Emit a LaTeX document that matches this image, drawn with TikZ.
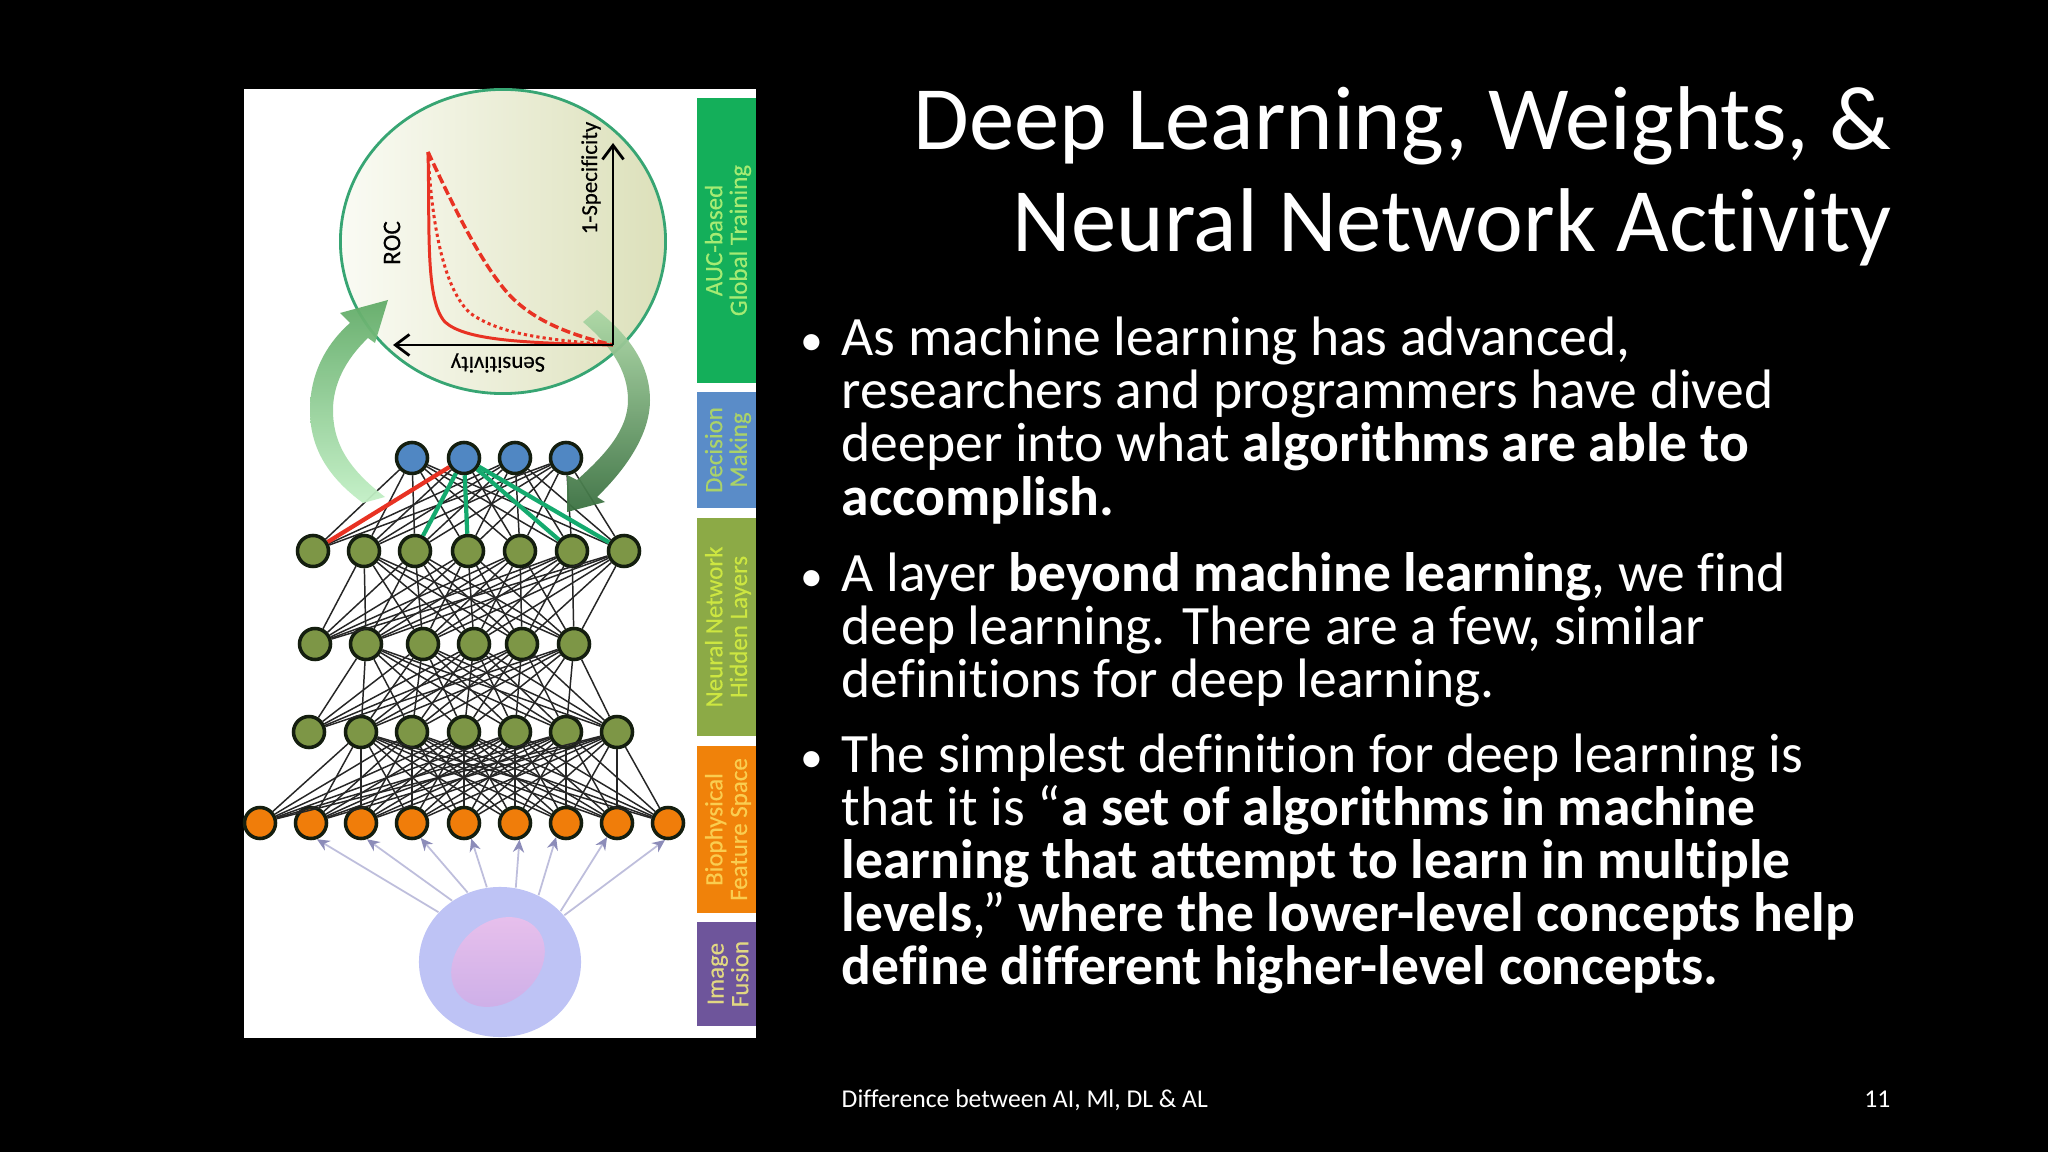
\documentclass[tikz,border=0pt]{standalone}
\usepackage{fontspec}
\usepackage{tikz}
\usetikzlibrary{shapes.geometric,arrows.meta}
\setmainfont[Ligatures=NoCommon]{Carlito}
\newfontfamily\figfont[FakeBold=0.35,Ligatures=NoCommon]{Carlito}
\definecolor{olivenode}{RGB}{125,150,70}
\definecolor{bluenode}{RGB}{80,135,195}
\definecolor{orangenode}{RGB}{240,125,10}
\definecolor{nodeedge}{RGB}{20,30,15}
\definecolor{rocred}{RGB}{232,50,35}
\definecolor{weightgreen}{RGB}{20,170,110}
\definecolor{feedline}{RGB}{190,190,220}
\definecolor{feedtip}{RGB}{140,140,185}
\newcommand{\unitpx}{*0.2845pt}
\tikzset{
    unit/.style={draw=nodeedge,circle,line width=1pt,minimum size=31\unitpx,inner sep=0pt},
    weight/.style={draw=black!85,line width=0.42pt},
    feed/.style={draw=feedline,line width=0.5pt,-{Stealth[length=3.6pt,width=3.2pt,color=feedtip]}},
    axis/.style={draw=black,line width=0.8pt,-{Straight Barb[length=4pt,width=6pt]}},
    sidetext/.style={rotate=90,align=center,font=\figfont\fontsize{7.1}{7}\selectfont},
    roctext/.style={inner sep=0pt,font=\figfont\fontsize{6.5}{8}\selectfont},
    titleline/.style={text=white,anchor=base east,inner sep=0pt,font=\fontsize{25.75}{30}\selectfont},
    bodyline/.style={text=white,anchor=base west,inner sep=0pt,text height=11pt,text depth=3pt,font=\fontsize{15.8}{18}\selectfont},
    bulletmark/.style={text=white,anchor=base west,inner sep=0pt,font=\fontsize{13}{15}\selectfont},
    footline/.style={text=white,inner sep=0pt,font=\fontsize{7.3}{9}\selectfont},
}
\begin{document}
\begin{tikzpicture}[x=0.01cm,y=-0.01cm]
    \fill[black] (0,0) rectangle (2048,1152);
    \useasboundingbox (0,0) rectangle (2048,1152);
    \fill[white] (244,89) rectangle (756,1038);

    % side bands
    \foreach \name/\top/\bot/\fillrgb/\textrgb/\txt in {
        auc/98/383/{20,175,90}/{165,235,115}/{AUC-based\\Global Training},
        decision/392/508/{90,140,200}/{170,210,105}/{Decision\\Making},
        hidden/518/736/{140,170,70}/{205,230,65}/{Neural Network\\Hidden Layers},
        feature/746/913/{240,130,10}/{250,205,80}/{Biophysical\\Feature Space},
        fusion/922/1026/{110,85,155}/{225,215,130}/{Image\\Fusion}} {
        \definecolor{bandfill}{RGB}{\fillrgb}
        \definecolor{bandtext}{RGB}{\textrgb}
        \fill[bandfill] (697,\top) rectangle (756,\bot);
        \node[sidetext,text=bandtext] (\name) at (728,{(\top+\bot)/2}) {\txt};
    }

    % ROC circle
    \node[draw={rgb,255:red,55;green,165;blue,115},ellipse,line width=0.8pt,minimum width=325\unitpx,minimum height=304\unitpx,inner sep=0pt,
        shade,shading angle=120,left color={rgb,255:red,250;green,251;blue,244},right color={rgb,255:red,220;green,224;blue,186}] (roc) at (503,241.5) {};

    % units
    \foreach \i/\x in {1/260,2/311,3/361,4/412,5/464,6/515,7/566,8/617,9/668}
        \node[unit,fill=orangenode] (o\i) at (\x,823) {};
    \foreach \i/\x in {1/309,2/361,3/412,4/464,5/515,6/566,7/617}
        \node[unit,fill=olivenode] (c\i) at (\x,732) {};
    \foreach \i/\x in {1/315,2/366,3/423,4/474,5/522,6/574}
        \node[unit,fill=olivenode] (b\i) at (\x,644) {};
    \foreach \i/\x in {1/313,2/364,3/415,4/468,5/520,6/572,7/624}
        \node[unit,fill=olivenode] (a\i) at (\x,551) {};
    \foreach \i/\x in {1/412,2/464,3/515,4/566}
        \node[unit,fill=bluenode] (t\i) at (\x,458) {};

    % weights
    \foreach \i in {1,...,9} \foreach \j in {2,...,7} \draw[weight] (o\i) -- (c\j);
    \foreach \i in {1,...,7} \foreach \j in {2,...,6} \draw[weight] (c\i) -- (b\j);
    \foreach \i in {1,...,6} \foreach \j in {2,...,7} \draw[weight] (b\i) -- (a\j);
    \foreach \i in {1,...,7} \foreach \j in {1,...,4} \draw[weight] (a\i) -- (t\j);
    \draw[rocred,line width=1.2pt] (a1) -- (t2);
    \foreach \j in {3,4,6,7} \draw[weightgreen,line width=1.2pt] (t2) -- (a\j);

    % loop arrows
    \shade[top color={rgb,255:red,98;green,172;blue,104},bottom color={rgb,255:red,195;green,240;blue,198},opacity=0.95]
        (363,503) .. controls (325,475) and (310,445) .. (310,410) .. controls (310,375) and (325,345) .. (350,323)
        -- (340,313) -- (388,300) -- (375,343) -- (368,338)
        .. controls (345,360) and (333,385) .. (333,410) .. controls (333,445) and (350,470) .. (385,497) -- cycle;
    \shade[top color={rgb,255:red,172;green,216;blue,166},bottom color={rgb,255:red,58;green,112;blue,64},opacity=0.95]
        (597,310) .. controls (635,340) and (650,370) .. (650,400) .. controls (650,435) and (625,470) .. (597,497)
        -- (605,502) -- (567,512) -- (567,475) -- (577,480)
        .. controls (605,455) and (628,430) .. (628,400) .. controls (628,370) and (610,345) .. (583,322) -- cycle;

    % ROC plot
    \coordinate (origin) at (613,345);
    \coordinate (yend) at (613,143);
    \coordinate (xend) at (393,345);
    \draw[rocred,line width=0.85pt] (428,152) .. controls (430,230) and (425,300) .. (445,322) .. controls (465,340) and (520,343) .. (613,345);
    \draw[rocred,line width=0.85pt,dash pattern=on 0.9pt off 0.9pt] (428,152) .. controls (432,230) and (445,290) .. (470,313) .. controls (500,335) and (550,340) .. (613,345);
    \draw[rocred,line width=1pt,dash pattern=on 2.6pt off 1pt] (428,152) .. controls (455,210) and (480,260) .. (505,290) .. controls (530,320) and (570,335) .. (613,345);
    \draw[axis] (origin) -- (yend);
    \draw[axis] (origin) -- (xend);
    \node[roctext,rotate=90,font=\figfont\fontsize{7.2}{8}\selectfont] (roclabel) at (392,243) {ROC};
    \node[roctext,rotate=90] (speclabel) at (591,178) {1-Specificity};
    \node[roctext,rotate=180] (senslabel) at (498,363) {Sensitivity};

    % cell
    \node[ellipse,minimum width=162\unitpx,minimum height=150\unitpx,inner sep=0pt,fill={rgb,255:red,190;green,195;blue,245}] (cell) at (500,962) {};
    \node[ellipse,rotate=40,minimum width=102\unitpx,minimum height=80\unitpx,inner sep=0pt,shade,top color={rgb,255:red,232;green,192;blue,236},bottom color={rgb,255:red,205;green,175;blue,232}] (nucleus) at (498,962) {};
    \foreach \a/\i/\t in {141/2/-70,128/3/-70,115/4/-60,100/5/-65,78/6/-75,60/7/-125,40/8/-125,36/9/-100}
        \draw[feed] (cell.\a) -- (o\i.\t);

    % slide text
    \node[titleline] (title1) at (1892,150) {Deep Learning, Weights, \&};
    \node[titleline] (title2) at (1892,252) {Neural Network Activity};
    \foreach \y in {356,591,772}
        \node[bulletmark] (bullet\y) at (800,\y) {•};
    \foreach \y/\txt in {
        356/{As machine learning has advanced,},
        409/{researchers and programmers have dived},
        462/{deeper into what \textbf{algorithms are able to}},
        515/{\textbf{accomplish.}},
        591/{A layer \textbf{beyond machine learning}, we find},
        644/{deep learning. There are a few, similar},
        697/{definitions for deep learning.},
        772/{The simplest definition for deep learning is},
        825/{that it is “\textbf{a set of algorithms in machine}},
        878/{\textbf{learning that attempt to learn in multiple}},
        931/{\textbf{levels},” \textbf{where the lower-level concepts help}},
        984/{\textbf{define different higher-level concepts.}}} {
        \node[bodyline] (line\y) at (841,\y) {\txt};
    }
    \node[footline,anchor=base west] (footer) at (841,1107) {Difference between AI, Ml, DL \& AL};
    \node[footline,anchor=base east] (pagenum) at (1891,1107) {11};
\end{tikzpicture}
\end{document}
